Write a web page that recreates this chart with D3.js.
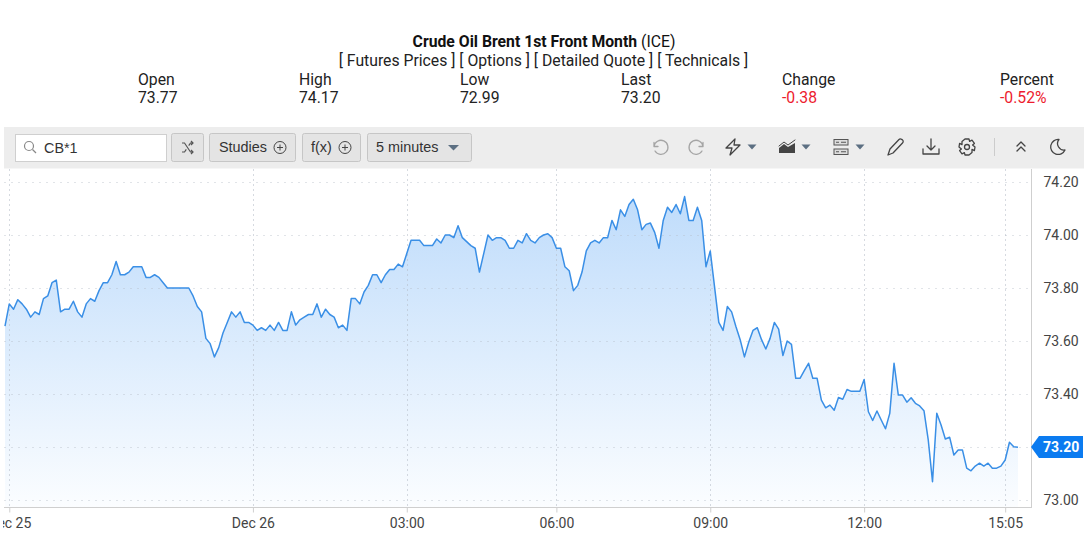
<!DOCTYPE html>
<html>
<head>
<meta charset="utf-8">
<script src="https://cdn.jsdelivr.net/npm/d3@7"></script>
<style>
  body { margin: 0; background: #fff; }
  svg { display: block; }
  text { font-family: Roboto, "Liberation Sans", sans-serif; }
  .btn text, .search text { font-family: "Liberation Sans", sans-serif; }
</style>
</head>
<body>
<div id="chart"></div>
<script>
// quote header
let quote_labels = ["Open", "High", "Low", "Last", "Change", "Percent"]
let quote_values = ["73.77", "74.17", "72.99", "73.20", "-0.38", "-0.52%"]
let links = "[ Futures Prices ] [ Options ] [ Detailed Quote ] [ Technicals ]"

// axis
let y_ticks = [73.00, 73.20, 73.40, 73.60, 73.80, 74.00, 74.20]
let x_tick_index = [1, 58, 94, 129, 165, 201, 234]
let x_tick_labels = ["Dec 25", "Dec 26", "03:00", "06:00", "09:00", "12:00", "15:05"]
let last_price = 73.20

// 5 minute closes
let closes = [
  73.656,73.74,73.72,73.756,73.74,73.72,73.69,73.71,73.70,73.76,
  73.77,73.82,73.83,73.71,73.72,73.72,73.75,73.71,73.69,73.74,
  73.76,73.75,73.79,73.82,73.82,73.85,73.90,73.85,73.85,73.86,
  73.88,73.88,73.88,73.84,73.84,73.85,73.84,73.82,73.80,73.80,
  73.80,73.80,73.80,73.80,73.77,73.73,73.71,73.61,73.59,73.54,
  73.575,73.63,73.67,73.71,73.69,73.71,73.67,73.67,73.66,73.64,
  73.65,73.64,73.66,73.64,73.67,73.64,73.64,73.71,73.66,73.68,
  73.69,73.70,73.70,73.74,73.69,73.72,73.70,73.69,73.65,73.66,
  73.64,73.76,73.76,73.74,73.785,73.81,73.85,73.85,73.82,73.85,
  73.87,73.87,73.89,73.88,73.93,73.98,73.98,73.98,73.96,73.96,
  73.96,73.985,73.97,74.00,74.00,73.99,74.035,73.99,73.975,73.96,
  73.95,73.86,73.93,74.00,73.98,73.99,73.99,73.98,73.95,73.95,
  73.98,73.97,74.005,73.98,73.97,73.99,74.00,74.005,73.99,73.95,
  73.95,73.88,73.865,73.79,73.81,73.86,73.94,73.97,73.98,73.97,
  73.99,73.99,74.055,74.02,74.095,74.07,74.115,74.135,74.095,74.02,
  74.04,74.045,74.01,73.95,74.055,74.105,74.085,74.115,74.08,74.145,
  74.055,74.055,74.105,74.055,73.88,73.94,73.805,73.67,73.64,73.73,
  73.71,73.655,73.605,73.54,73.595,73.64,73.65,73.605,73.57,73.61,
  73.67,73.645,73.545,73.60,73.587,73.459,73.459,73.488,73.516,73.459,
  73.459,73.377,73.348,73.358,73.339,73.387,73.38,73.417,73.41,73.41,
  73.41,73.455,73.333,73.30,73.336,73.302,73.269,73.327,73.516,73.396,
  73.396,73.369,73.386,73.365,73.355,73.337,73.227,73.069,73.327,73.283,
  73.23,73.237,73.17,73.189,73.189,73.12,73.11,73.128,73.139,73.128,
  73.139,73.12,73.12,73.128,73.151,73.218,73.201,73.199
]

let width = 1090
let height = 535

let svg = d3.select("#chart").append("svg")
  .attr("width", width)
  .attr("height", height)

drawHeader()
drawToolbar()
drawChart()

function drawHeader(){
  let title = svg.append("text")
    .attr("x", 544).attr("y", 47)
    .attr("text-anchor", "middle")
    .attr("font-size", 15.75)
    .attr("fill", "#111")
  title.append("tspan").attr("font-weight", "bold").text("Crude Oil Brent 1st Front Month")
  title.append("tspan").text(" (ICE)")

  svg.append("text")
    .attr("x", 543.5).attr("y", 66)
    .attr("text-anchor", "middle")
    .attr("font-size", 15.75)
    .attr("fill", "#222")
    .text(links)

  let col_x = d3.scaleOrdinal().domain(quote_labels).range([138, 299, 460, 621, 782, 1000])

  svg.append("g").selectAll("text").data(quote_labels).join("text")
    .attr("x", d => col_x(d)).attr("y", 85)
    .attr("font-size", 15.75).attr("fill", "#222")
    .text(d => d)

  svg.append("g").selectAll("text").data(quote_values).join("text")
    .attr("x", (d, i) => col_x(quote_labels[i])).attr("y", 103)
    .attr("font-size", 15.75)
    .attr("fill", (d, i) => d[0] == "-" ? "#ed1c2e" : "#222")
    .text(d => d)
}

function button(x, w){
  let g = svg.append("g").attr("class", "btn").attr("transform", "translate(" + x + ",133)")
  g.append("rect")
    .attr("x", 0.5).attr("y", 0.5)
    .attr("width", w).attr("height", 28)
    .attr("rx", 2)
    .attr("fill", "#e4e4e4")
    .attr("stroke", "#c6c6c6")
  return g
}

function plusCircle(g, x){
  g.append("circle").attr("cx", x).attr("cy", 14.5).attr("r", 6)
    .attr("fill", "none").attr("stroke", "#444")
  g.append("path").attr("d", `M${x - 3},14.5H${x + 3}M${x},11.5V17.5`).attr("stroke", "#444")
}

function icon(x, d, color, sw){
  svg.append("path")
    .attr("transform", "translate(" + x + ",147)")
    .attr("d", d)
    .attr("fill", "none")
    .attr("stroke", color)
    .attr("stroke-width", sw || 1.3)
    .attr("stroke-linecap", "round")
    .attr("stroke-linejoin", "round")
}

function caret(x, color){
  svg.append("path")
    .attr("transform", "translate(" + x + ",147)")
    .attr("d", "M-4.5,-2.5H4.5L0,2.5Z")
    .attr("fill", color || "#5c6f82")
}

function drawToolbar(){
  svg.append("rect")
    .attr("x", 4).attr("y", 127)
    .attr("width", 1080).attr("height", 41.5)
    .attr("fill", "#ededed")

  // search box
  let s = svg.append("g").attr("class", "search")
  s.append("rect").attr("x", 15.5).attr("y", 134.5).attr("width", 151).attr("height", 27)
    .attr("fill", "#fff").attr("stroke", "#cfcfcf")
  s.append("circle").attr("cx", 29).attr("cy", 146).attr("r", 4.5)
    .attr("fill", "none").attr("stroke", "#888").attr("stroke-width", 1.2)
  s.append("path").attr("d", "M32.5,149.5L36,153").attr("stroke", "#888").attr("stroke-width", 1.2)
  s.append("text").attr("x", 44).attr("y", 153).attr("font-size", 14.4).attr("fill", "#333").text("CB*1")

  // shuffle
  let b1 = button(171, 32)
  b1.append("path")
    .attr("d", "M11,10h2.5l6,9H22M11,19h2.5l1.8,-2.7M17.7,12.7L19.5,10H22M20,8l2,2l-2,2M20,17l2,2l-2,2")
    .attr("fill", "none").attr("stroke", "#555").attr("stroke-width", 1.2)

  let b2 = button(209, 86)
  b2.append("text").attr("x", 10).attr("y", 19).attr("font-size", 14.4).attr("fill", "#333").text("Studies")
  plusCircle(b2, 71)

  let b3 = button(302, 58)
  b3.append("text").attr("x", 9).attr("y", 19).attr("font-size", 14.4).attr("fill", "#333").text("f(x)")
  plusCircle(b3, 43)

  let b4 = button(367, 104)
  b4.append("text").attr("x", 9).attr("y", 19).attr("font-size", 14.4).attr("fill", "#333").text("5 minutes")
  b4.append("path").attr("d", "M81,12H92L86.5,17.5Z").attr("fill", "#5c6f82")

  // right side icons
  let undo = "M-6,-4.5V-0.5H-2M-6,-0.5A7,7 0 1 1 -5,4"
  let redo = "M6,-4.5V-0.5H2M6,-0.5A7,7 0 1 0 5,4"
  icon(660, undo, "#a5a5a5")
  icon(697, redo, "#a5a5a5")
  icon(733, "M2,-8L-7,1H-1L-3,8L7,-2H1Z", "#444")
  caret(752)
  // mountain chart icon
  svg.append("path").attr("transform", "translate(787,147)")
    .attr("d", "M-8,6V1L-3,-3L1,0L8,-4V6Z").attr("fill", "#444")
  icon(787, "M-8,-1L-3,-5L1,-2L8,-7", "#444", 1)
  caret(806)
  // layout icon
  let panel = svg.append("g").attr("transform", "translate(841,147)")
  panel.selectAll("rect").data([-7.5, 2]).join("rect")
    .attr("x", -7).attr("y", d => d).attr("width", 14).attr("height", 5.5)
    .attr("fill", "#ddd").attr("stroke", "#555")
  panel.append("path").attr("d", "M-5,-4.75H-2M0,-4.75H5M-5,4.75H-2M0,4.75H5").attr("stroke", "#555")
  caret(860)
  icon(895, "M-7,8L-5,2L4,-7.5C5,-8.5 7,-8 8,-6.5C8.5,-5.5 8,-4.5 7.5,-4L-2,6Z", "#444")
  icon(931, "M0,-8V3M-4,-1L0,3L4,-1M-8,2V7H8V2", "#444")
  // gear
  icon(967, "M-2,-8H2L2.6,-5.6L5,-6.8L7.4,-3.6L5.6,-2L8,0L7.4,3.6L5,2.4L5,5.6L2,8H-2L-2.6,5.6L-5,6.8L-7.4,3.6L-5.6,2L-8,0L-7.4,-3.6L-5,-2.4L-5,-5.6Z", "#444")
  svg.append("circle").attr("cx", 967).attr("cy", 147).attr("r", 2.5)
    .attr("fill", "none").attr("stroke", "#444").attr("stroke-width", 1.3)
  svg.append("line").attr("x1", 994.5).attr("x2", 994.5).attr("y1", 138).attr("y2", 156).attr("stroke", "#ccc")
  icon(1021, "M-4,-1L0,-5L4,-1M-4,4L0,0L4,4", "#444")
  icon(1057, "M2,-7.5A7.5,7.5 0 1 0 8,3A6.5,6.5 0 0 1 2,-7.5Z", "#444")
}

function drawChart(){
  let x = d3.scaleLinear().domain([0, closes.length - 1]).range([5, 1018])
  let y = d3.scaleLinear().domain([73.00, 74.20]).range([500, 182])

  let plot_right = 1031
  let plot_bottom = 507
  let axis_font = '"Open Sans", sans-serif'

  let defs = svg.append("defs")
  let grad = defs.append("linearGradient")
    .attr("id", "fill_grad")
    .attr("gradientUnits", "userSpaceOnUse")
    .attr("x1", 0).attr("x2", 0)
    .attr("y1", y(d3.max(closes))).attr("y2", plot_bottom)
  grad.append("stop").attr("offset", 0).attr("stop-color", "#bfdcfb")
  grad.append("stop").attr("offset", 1).attr("stop-color", "#fbfdff")

  // area and line
  svg.append("path")
    .datum(closes)
    .attr("fill", "url(#fill_grad)")
    .attr("d", d3.area()
      .x((d, i) => x(i))
      .y0(plot_bottom)
      .y1(d => y(d)))

  // grid goes over the area, it shows through it in the original
  svg.append("g").selectAll("line").data(y_ticks).join("line")
    .attr("x1", 4).attr("x2", plot_right)
    .attr("y1", d => y(d) + 0.5).attr("y2", d => y(d) + 0.5)
    .attr("stroke", "#b4bcc6")
    .attr("stroke-opacity", 0.4)
    .attr("stroke-dasharray", "2,5")
  svg.append("g").selectAll("line").data(x_tick_index).join("line")
    .attr("x1", d => Math.round(x(d)) + 0.5).attr("x2", d => Math.round(x(d)) + 0.5)
    .attr("y1", 169).attr("y2", plot_bottom)
    .attr("stroke", "#b4bcc6")
    .attr("stroke-opacity", 0.55)
    .attr("stroke-dasharray", "2,3")

  svg.append("path")
    .datum(closes)
    .attr("fill", "none")
    .attr("stroke", "#3a8fe6")
    .attr("stroke-width", 1.5)
    .attr("stroke-linejoin", "round")
    .attr("d", d3.line()
      .x((d, i) => x(i))
      .y(d => y(d)))

  // x axis
  let x_axis = d3.axisBottom(x)
    .tickValues(x_tick_index)
    .tickFormat((d, i) => x_tick_labels[i])
    .tickSize(5)
    .tickPadding(6)
  let gx = svg.append("g")
    .attr("transform", "translate(0," + (plot_bottom + 0.5) + ")")
    .call(x_axis)
  gx.select(".domain").remove()
  gx.selectAll("line").attr("stroke", "#cfcfcf")
  gx.selectAll("text").attr("font-size", 14).attr("fill", "#444").attr("font-family", axis_font)
  svg.append("line").attr("x1", 4).attr("x2", plot_right + 0.5)
    .attr("y1", plot_bottom + 0.5).attr("y2", plot_bottom + 0.5)
    .attr("stroke", "#cfcfcf")
  // first label runs off the left of the plot
  svg.append("rect").attr("x", 0).attr("y", plot_bottom + 2).attr("width", 3).attr("height", 26).attr("fill", "#fff")

  // y axis
  let y_axis = d3.axisRight(y)
    .tickValues(y_ticks)
    .tickFormat(d3.format(".2f"))
    .tickSize(0)
    .tickPadding(12)
  let gy = svg.append("g")
    .attr("transform", "translate(" + (plot_right + 0.5) + ",0)")
    .call(y_axis)
  gy.select(".domain").remove()
  gy.selectAll("text").attr("font-size", 14).attr("fill", "#444").attr("font-family", axis_font)
  svg.append("line").attr("x1", plot_right + 0.5).attr("x2", plot_right + 0.5)
    .attr("y1", 169).attr("y2", plot_bottom + 1)
    .attr("stroke", "#cfcfcf")

  // last price tag
  let tag = svg.append("g").attr("transform", "translate(0," + y(last_price) + ")")
  tag.append("path")
    .attr("d", "M1031,0L1039,-11H1083V11H1039Z")
    .attr("fill", "#0b7bf0")
  tag.append("text")
    .attr("x", 1043).attr("y", 5)
    .attr("font-size", 14).attr("font-weight", "bold").attr("fill", "#fff")
    .attr("font-family", axis_font)
    .text(d3.format(".2f")(last_price))
}
</script>
</body>
</html>
